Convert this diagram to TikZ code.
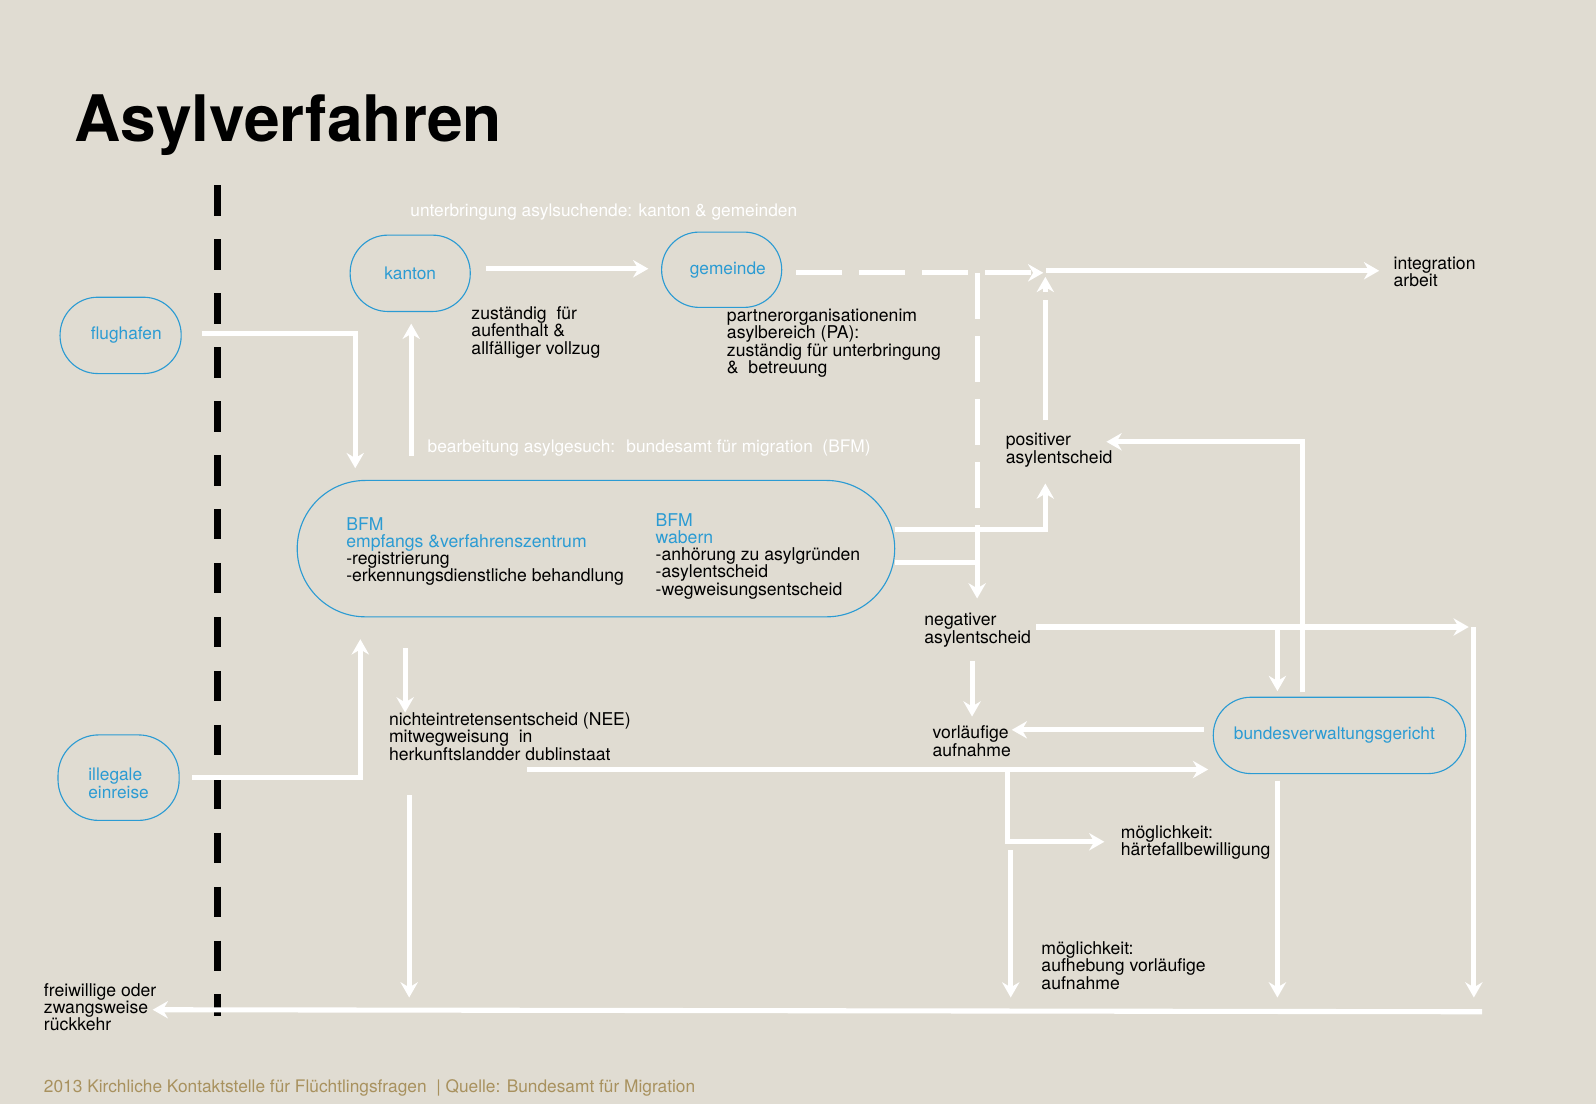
\documentclass[tikz,border=0pt]{standalone}
\usepackage{fontspec}
\setmainfont{TeX Gyre Heros}
\usetikzlibrary{arrows.meta,calc}
\definecolor{bgcol}{HTML}{E0DCD2}
\definecolor{nodeblue}{HTML}{2B9BD3}
\definecolor{footcol}{HTML}{A8915E}
\newcommand{\fsbody}{\fontsize{17.3}{16.9}\selectfont}
\newcommand{\fsblue}{\fontsize{17}{17.3}\selectfont}
\newcommand{\fstitle}{\fontsize{63}{70}\selectfont\bfseries}
\newcommand{\fsfoot}{\fontsize{17}{18}\selectfont}
\newcommand{\mlines}[1]{\vtop{\let\\\cr\lineskiplimit=-20pt\halign{##\hfil\cr#1\crcr}}}
\tikzset{
  bnode/.style={draw=nodeblue, line width=1.1pt, text=nodeblue, font=\fsblue, inner sep=0pt},
  lbl/.style={anchor=base west, inner sep=0pt, font=\fsbody, text=black},
  wlbl/.style={anchor=base west, inner sep=0pt, font=\fsblue, text=white},
  flow/.style={draw=white, line width=5pt, line join=miter, -{Stealth[length=15pt,width=17pt,inset=5pt]}},
  wline/.style={draw=white, line width=5pt, line join=miter},
  flowdash/.style={flow, dash pattern=on 45pt off 17pt},
}
\begin{document}
\begin{tikzpicture}[x=1pt,y=-1pt]
\useasboundingbox (0,0) rectangle (1568,1085);
\fill[bgcol] (0,0) rectangle (1568,1085);

% title and footer
\node[anchor=base west, inner sep=0pt, font=\fstitle] (title) at (73,139) {Asylverfahren};
\node[anchor=base west, inner sep=0pt, font=\fsfoot, text=footcol] (footer) at (43,1073)
  {2013 Kirchliche Kontaktstelle für Flüchtlingsfragen \ | Quelle: Bundesamt für Migration};

% border line (black, dashed)
\coordinate (bordertop) at (214,182);
\coordinate (borderbot) at (214,998);
\draw[black, line width=7pt, dash pattern=on 30pt off 23pt] (bordertop) -- (borderbot);

% blue nodes
\node[bnode, minimum width=119pt, minimum height=75pt, rounded corners=37pt] (flug) at (118.5,329.5) {\hspace*{11pt}flughafen};
\node[bnode, minimum width=118pt, minimum height=75pt, rounded corners=37pt] (kanton) at (403,268.5) {kanton};
\node[bnode, minimum width=118pt, minimum height=74pt, rounded corners=37pt] (gemeinde) at (709,265) {\hspace*{12pt}gemeinde};
\node[bnode, minimum width=119pt, minimum height=84pt, rounded corners=40pt] (illegal) at (116.5,764) {\mlines{\rule{0pt}{24pt}illegale\\einreise}};
\node[bnode, minimum width=587pt, minimum height=134pt, rounded corners=67pt] (bfm) at (585.5,539) {};
\node[bnode, minimum width=248pt, minimum height=75pt, rounded corners=37pt] (bvg) at (1316,722.5) {bundesverwaltungsgericht\hspace*{10pt}};

% texts in BFM node
\node[lbl] (bfmleft) at (340,521) {\mlines{\textcolor{nodeblue}{BFM}\\\textcolor{nodeblue}{empfangs \&verfahrenszentrum}\\-registrierung\\-erkennungsdienstliche behandlung}};
\node[lbl] (bfmright) at (644,517) {\mlines{\textcolor{nodeblue}{BFM}\\\textcolor{nodeblue}{wabern}\\-anhörung zu asylgründen\\-asylentscheid\\-wegweisungsentscheid}};

% white headings
\node[wlbl] (hdunter) at (403,213) {unterbringung asylsuchende: kanton \& gemeinden};
\node[wlbl] (hdbearb) at (420,445) {bearbeitung asylgesuch: \ bundesamt für migration \ (BFM)};

% black labels
\node[lbl] (zust) at (463,314) {\mlines{zuständig \ für\\aufenthalt \&\\allfälliger vollzug}};
\node[lbl] (partner) at (714,316) {\mlines{partnerorganisationenim\\asylbereich (PA):\\zuständig für unterbringung\\\& \ betreuung}};
\node[lbl] (integ) at (1369,265) {\mlines{integration\\arbeit}};
\node[lbl] (pos) at (988,438) {\mlines{positiver\\asylentscheid}};
\node[lbl] (neg) at (908,615) {\mlines{negativer\\asylentscheid}};
\node[lbl] (vorl) at (916,726) {\mlines{vorläufige\\aufnahme}};
\node[lbl] (nee) at (382,713) {\mlines{nichteintretensentscheid (NEE)\\mitwegweisung \ in\\herkunftslandder dublinstaat}};
\node[lbl] (haerte) at (1101,824) {\mlines{möglichkeit:\\härtefallbewilligung}};
\node[lbl] (aufheb) at (1023,938) {\mlines{möglichkeit:\\aufhebung vorläufige\\aufnahme}};
\node[lbl] (rueck) at (43,979) {\mlines{freiwillige oder\\zwangsweise\\rückkehr}};

% coordinates for connectors
\coordinate (kgA) at (477,264);
\coordinate (kgB) at (637,264);
\coordinate (flA) at (198,328);
\coordinate (flB) at (349,328);
\coordinate (flC) at (349,460);
\coordinate (bkA) at (404,448);
\coordinate (bkB) at (404,318);
\coordinate (ilA) at (189,764);
\coordinate (ilB) at (354,764);
\coordinate (ilC) at (354,628);
\coordinate (bnA) at (398,637);
\coordinate (bnB) at (398,700);
\coordinate (nrA) at (402,781);
\coordinate (nrB) at (402,980);
\coordinate (nbA) at (518,756);
\coordinate (nbB) at (1187,756);
\coordinate (botR) at (1456,994);
\coordinate (botL) at (150,992);
\coordinate (gdA) at (782,268);
\coordinate (gdB) at (1025,268);
\coordinate (inA) at (1028,266);
\coordinate (inB) at (1355,266);
\coordinate (vdTop) at (960,268);
\coordinate (vdJoin) at (960,553);
\coordinate (bngA) at (879,553);
\coordinate (bngB) at (960,588);
\coordinate (bpA) at (879,520);
\coordinate (bpB) at (1027,520);
\coordinate (bpC) at (1027,475);
\coordinate (pdA) at (1027,413);
\coordinate (pdB) at (1027,272);
\coordinate (bvpA) at (1280,680);
\coordinate (bvpB) at (1280,434);
\coordinate (bvpC) at (1087,434);
\coordinate (ngrA) at (1018,616);
\coordinate (ngrB) at (1443,616);
\coordinate (ngdA) at (1255,616);
\coordinate (ngdB) at (1255,679);
\coordinate (rvA) at (1448,616);
\coordinate (rvB) at (1448,980);
\coordinate (nvA) at (955,649);
\coordinate (nvB) at (955,704);
\coordinate (bvvA) at (1183,717);
\coordinate (bvvB) at (994,717);
\coordinate (hbA) at (990,756);
\coordinate (hbB) at (990,827);
\coordinate (hbC) at (1085,827);
\coordinate (avA) at (993,835);
\coordinate (avB) at (993,980);
\coordinate (bvdA) at (1255,767);
\coordinate (bvdB) at (1255,980);

% connectors
\draw[flow] (kgA) -- (kgB);
\draw[flow] (flA) -- (flB) -- (flC);
\draw[flow] (bkA) -- (bkB);
\draw[flow] (ilA) -- (ilB) -- (ilC);
\draw[flow] (bnA) -- (bnB);
\draw[flow] (nrA) -- (nrB);
\draw[flow] (nbA) -- (nbB);
\draw[flow] (botR) -- (botL);
\draw[flowdash] (gdA) -- (gdB);
\draw[flow] (inA) -- (inB);
\draw[wline, dash pattern=on 45pt off 17pt] (vdTop) -- (vdJoin);
\draw[flow] (bngA) -- (vdJoin) -- (bngB);
\draw[flow] (bpA) -- (bpB) -- (bpC);
\draw[flow, dash pattern=on 118pt off 8pt] (pdA) -- (pdB);
\draw[flow] (bvpA) -- (bvpB) -- (bvpC);
\draw[flow] (ngrA) -- (ngrB);
\draw[flow] (ngdA) -- (ngdB);
\draw[flow] (rvA) -- (rvB);
\draw[flow] (nvA) -- (nvB);
\draw[flow] (bvvA) -- (bvvB);
\draw[flow] (hbA) -- (hbB) -- (hbC);
\draw[flow] (avA) -- (avB);
\draw[flow] (bvdA) -- (bvdB);
\end{tikzpicture}
\end{document}
